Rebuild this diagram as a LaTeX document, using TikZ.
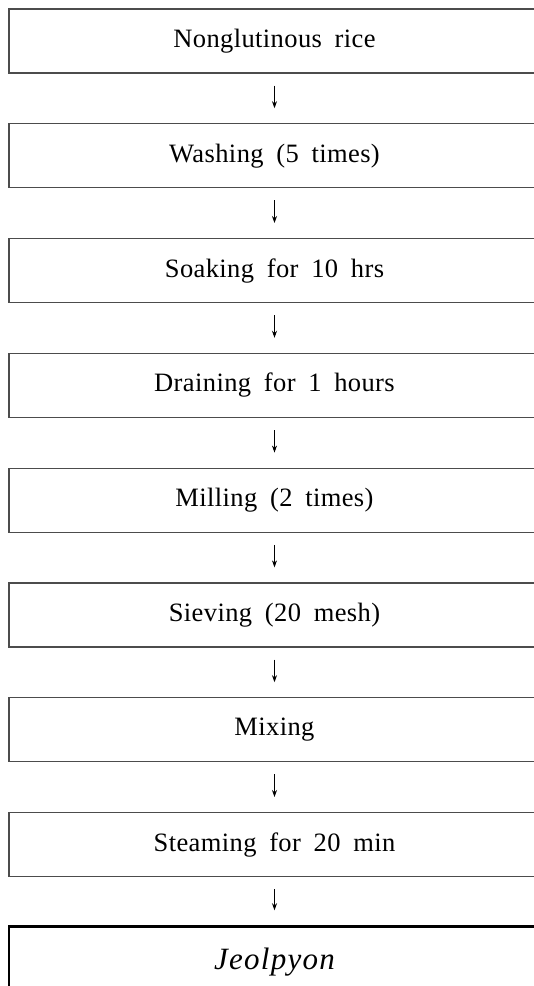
\documentclass[tikz,border=0pt]{standalone}
\usepackage{fontspec}
\setmainfont{Liberation Serif}
\usetikzlibrary{positioning, arrows.meta}
\newcommand{\boxfont}{\fontsize{26.5}{30}\selectfont\addfontfeature{LetterSpace=1.5}\spaceskip=0.48em\relax}
\newcommand{\lastfont}{\fontsize{31}{35}\selectfont\itshape\addfontfeature{LetterSpace=4}}
\tikzset{stepbox/.style={draw=black!70, line width=1.3pt, minimum width=531pt, minimum height=64pt, inner sep=0pt, font=\boxfont}}
\tikzset{endbox/.style={stepbox, draw=black, line width=2.6pt, minimum height=72pt, font=\lastfont}}
\tikzset{flow/.style={-{Stealth[length=7pt, width=5pt]}, line width=0.7pt, shorten <=12pt, shorten >=15pt}}

\begin{document}
\begin{tikzpicture}[x=1pt, y=1pt, node distance=49.5pt]
            \useasboundingbox (0, 0) rectangle (534, -986);
            \node[stepbox] (rice) at (274.5, -41) {Nonglutinous rice};
            \node[stepbox, below=of rice] (wash) {Washing (5 times)};
            \node[stepbox, below=of wash] (soak) {Soaking for 10 hrs};
            \node[stepbox, below=of soak] (drain) {Draining for 1 hours};
            \node[stepbox, below=of drain] (mill) {Milling (2 times)};
            \node[stepbox, below=of mill] (sieve) {Sieving (20 mesh)};
            \node[stepbox, below=of sieve] (mix) {Mixing};
            \node[stepbox, below=of mix] (steam) {Steaming for 20 min};
            \node[endbox, below=48pt of steam] (jeol) {Jeolpyon};
            \draw[flow] (rice) -- (wash);
            \draw[flow] (wash) -- (soak);
            \draw[flow] (soak) -- (drain);
            \draw[flow] (drain) -- (mill);
            \draw[flow] (mill) -- (sieve);
            \draw[flow] (sieve) -- (mix);
            \draw[flow] (mix) -- (steam);
            \draw[flow] (steam) -- (jeol);
        \end{tikzpicture}
\end{document}
